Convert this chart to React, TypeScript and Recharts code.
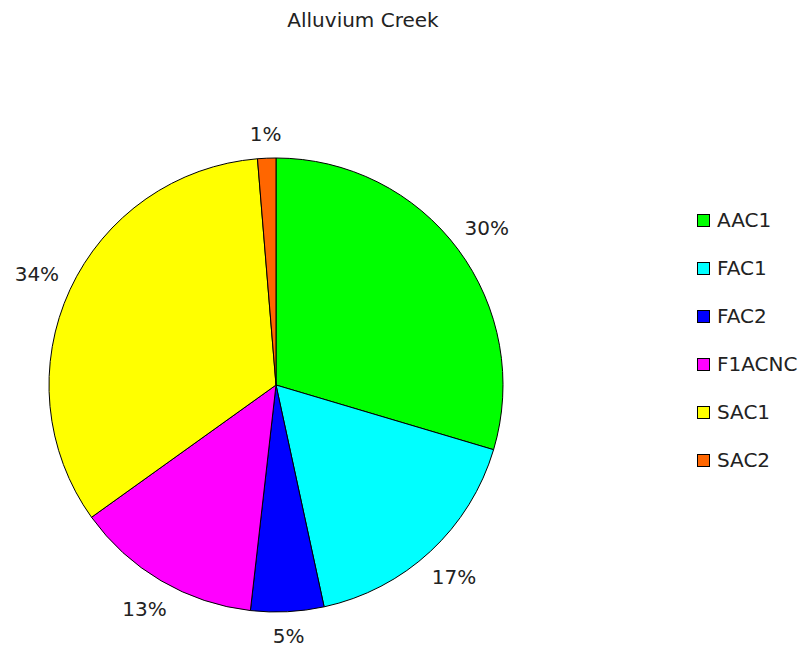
import React from "react";
import { Cell, Legend, Pie, PieChart } from "recharts";

const classes = ["AAC1", "FAC1", "FAC2", "F1ACNC", "SAC1", "SAC2"];
const shares = [29.6, 17.0, 5.2, 13.3, 33.6, 1.3];
const colors = ["#00ff00", "#00ffff", "#0000ff", "#ff00ff", "#ffff00", "#ff6600"];

const data = classes.map((name, i) => ({ name, value: shares[i], fill: colors[i] }));

const FONT = "'DejaVu Sans', Verdana, sans-serif";
const RAD = Math.PI / 180;

// percent labels sit just outside the rim, nudged out by half the text box
function renderLabel(props: any) {
  const { cx, cy, midAngle, percent } = props;
  const text = `${Math.round(percent * 100)}%`;
  const w = text.length * 13;
  const h = 18;
  const c = Math.cos(-midAngle * RAD);
  const s = Math.sin(-midAngle * RAD);
  const r = 242 + (w / 2) * Math.abs(c) + (h / 2) * Math.abs(s);
  return (
    <text
      x={cx + r * c}
      y={cy + r * s}
      textAnchor="middle"
      dominantBaseline="central"
      fontFamily={FONT}
      fontSize={20}
      fill="#222"
    >
      {text}
    </text>
  );
}

function LegendList() {
  return (
    <div style={{ fontFamily: FONT, fontSize: 20, color: "#222" }}>
      {data.map((d) => (
        <div key={d.name} style={{ display: "flex", alignItems: "center", height: 48 }}>
          <span
            style={{
              width: 11,
              height: 11,
              background: d.fill,
              border: "1px solid #000",
              marginRight: 7,
              display: "inline-block",
            }}
          />
          <span>{d.name}</span>
        </div>
      ))}
    </div>
  );
}

export default function App() {
  return (
    <div style={{ position: "absolute", left: 0, top: 0, width: 810, height: 652, background: "#fff" }}>
      <div
        style={{
          position: "absolute",
          top: 8,
          left: 0,
          width: 726,
          textAlign: "center",
          fontFamily: FONT,
          fontSize: 20,
          color: "#222",
        }}
      >
        Alluvium Creek
      </div>
      <PieChart width={810} height={652} margin={{ top: 0, right: 0, bottom: 0, left: 0 }}>
        <Pie
          data={data}
          dataKey="value"
          nameKey="name"
          cx={276}
          cy={385}
          outerRadius={227}
          startAngle={90}
          endAngle={-270}
          stroke="#000"
          strokeWidth={1}
          label={renderLabel}
          labelLine={false}
          isAnimationActive={false}
        >
          {data.map((d) => (
            <Cell key={d.name} fill={d.fill} />
          ))}
        </Pie>
        <Legend
          layout="vertical"
          content={() => <LegendList />}
          wrapperStyle={{ position: "absolute", left: 697, top: 196, width: 120 }}
        />
      </PieChart>
    </div>
  );
}
